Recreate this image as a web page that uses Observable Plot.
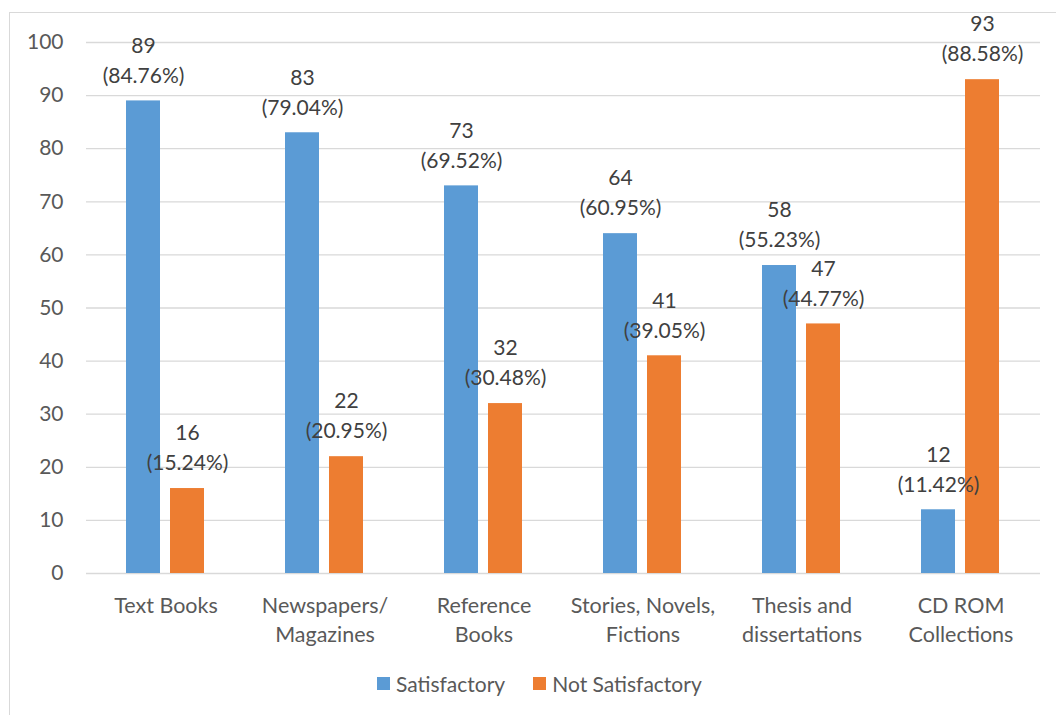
<!DOCTYPE html>
<html>
<head>
<meta charset="utf-8">
<script src="https://cdn.jsdelivr.net/npm/d3@7"></script>
<script src="https://cdn.jsdelivr.net/npm/@observablehq/plot@0.6"></script>
<style>
  html, body { margin: 0; padding: 0; background: #fff; overflow: hidden; }
  body { width: 1056px; height: 715px; position: relative; font-family: Lato, "Open Sans", sans-serif; }
  #frame { position: absolute; left: 9px; top: 12px; width: 1100px; height: 800px; border: 1px solid #d9d9d9; box-sizing: border-box; }
  #chart { position: absolute; left: 0; top: 0; }
  #legend { position: absolute; left: 377px; top: 671px; display: flex; align-items: center; font-size: 21px; color: #595959; }
  #legend .item { display: flex; align-items: center; margin-right: 28px; }
  #legend .sw { width: 13px; height: 13px; margin-right: 6px; }
</style>
</head>
<body>
<div id="frame"></div>
<div id="chart"></div>
<div id="legend"></div>
<script>
const categories = ["Text Books", "Newspapers/\nMagazines", "Reference\nBooks", "Stories, Novels,\nFictions", "Thesis and\ndissertations", "CD ROM\nCollections"];
const series = ["Satisfactory", "Not Satisfactory"];
const satisfactory = [89, 83, 73, 64, 58, 12];
const notSatisfactory = [16, 22, 32, 41, 47, 93];
const satisfactoryPct = ["84.76%", "79.04%", "69.52%", "60.95%", "55.23%", "11.42%"];
const notSatisfactoryPct = ["15.24%", "20.95%", "30.48%", "39.05%", "44.77%", "88.58%"];
const yTicks = [0, 10, 20, 30, 40, 50, 60, 70, 80, 90, 100];
const colors = ["#5b9bd5", "#ed7d31"];

const data = categories.flatMap((c, i) => [
  {cat: c, series: series[0], value: satisfactory[i], pct: satisfactoryPct[i]},
  {cat: c, series: series[1], value: notSatisfactory[i], pct: notSatisfactoryPct[i]}
]);

const chart = Plot.plot({
  width: 1056,
  height: 660,
  marginLeft: 86,
  marginRight: 16,
  marginTop: 42,
  marginBottom: 87,
  style: {fontFamily: "Lato, 'Open Sans', sans-serif", fontSize: "21px", color: "#595959", background: "transparent"},
  fx: {domain: categories, padding: 0, label: null},
  x: {domain: series, paddingInner: 0.222, paddingOuter: 0.878, axis: null},
  y: {domain: [0, 100], label: null},
  color: {domain: series, range: colors},
  marks: [
    Plot.gridY(yTicks, {stroke: "#d9d9d9", strokeOpacity: 1, strokeWidth: 1.3}),
    Plot.axisY(yTicks, {tickSize: 0, tickPadding: 23, fontSize: 21, label: null}),
    Plot.axisFx({anchor: "bottom", tickSize: 0, tickPadding: 19, fontSize: 21.5, lineHeight: 1.35, label: null}),
    Plot.barY(data, {fx: "cat", x: "series", y: "value", fill: "series"}),
    Plot.text(data, {fx: "cat", x: "series", y: "value", text: d => String(d.value), dy: -55, fontSize: 21, fill: "#404040"}),
    Plot.text(data, {fx: "cat", x: "series", y: "value", text: d => `(${d.pct})`, dy: -25, fontSize: 21, fill: "#404040"})
  ]
});
document.getElementById("chart").appendChild(chart);

const legend = document.getElementById("legend");
series.forEach((s, i) => {
  const item = document.createElement("div");
  item.className = "item";
  const sw = document.createElement("div");
  sw.className = "sw";
  sw.style.background = colors[i];
  const label = document.createElement("span");
  label.textContent = s;
  item.appendChild(sw);
  item.appendChild(label);
  legend.appendChild(item);
});
</script>
</body>
</html>
